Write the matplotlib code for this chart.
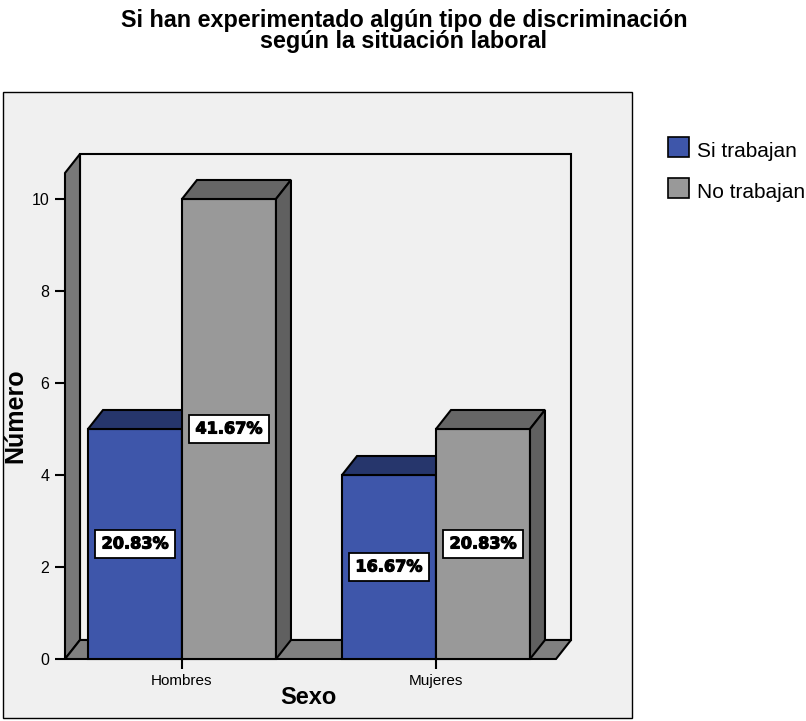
import numpy as np
import matplotlib
matplotlib.use("Agg")
import matplotlib.pyplot as plt
import matplotlib.patheffects as pe
from matplotlib.patches import Polygon, Rectangle

plt.rcParams['font.family'] = ['Liberation Sans', 'DejaVu Sans']

# ---- data ----
categories = ["Hombres", "Mujeres"]
series_names = ["Si trabajan", "No trabajan"]
si_trabajan = [5, 4]
no_trabajan = [10, 5]
title_lines = ["Si han experimentado algún tipo de discriminación",
               "según la situación laboral"]
y_ticks = [0, 2, 4, 6, 8, 10]

# ---- styling ----
front_colors = ["#3e56aa", "#999999"]
top_colors = ["#26366c", "#666666"]
side_colors = ["#2a3a78", "#606060"]
wall_color = "#787878"
floor_color = "#808080"
panel_color = "#f0f0f0"
edge_lw = 1.5

W, H = 806, 721
fig = plt.figure(figsize=(W / 100, H / 100), dpi=100, facecolor="white")


def fx(px):
    return px / W


def fy(py):
    return 1 - py / H


# outer panel
fig.patches.append(Rectangle((fx(3), fy(718)), fx(632) - fx(3), fy(92) - fy(718),
                             transform=fig.transFigure, facecolor=panel_color,
                             edgecolor="black", lw=1.0, zorder=0))

# axis geometry (front plane) and depth offset
x_left, x_right = -0.4606, 1.4724
y_top = 10.565
dx, dy = 0.059, 0.413
bar_w = 0.37

ax = fig.add_axes([fx(65), fy(659), fx(571) - fx(65), fy(154) - fy(659)])
ax.set_zorder(2)
ax.set_xlim(x_left, x_right + dx)
ax.set_ylim(0, y_top + dy)
ax.patch.set_visible(False)
for s in ax.spines.values():
    s.set_visible(False)

# back wall
ax.add_patch(Rectangle((x_left + dx, dy), x_right - x_left, y_top,
                       facecolor=panel_color, edgecolor="black", lw=edge_lw,
                       zorder=1, clip_on=False))
# left wall
ax.add_patch(Polygon([(x_left, 0), (x_left, y_top), (x_left + dx, y_top + dy),
                      (x_left + dx, dy)], closed=True, facecolor=wall_color,
                     edgecolor="black", lw=edge_lw, zorder=2, clip_on=False))
# floor
ax.add_patch(Polygon([(x_left, 0), (x_right, 0), (x_right + dx, dy),
                      (x_left + dx, dy)], closed=True, facecolor=floor_color,
                     edgecolor="black", lw=edge_lw, zorder=2, clip_on=False))

values = [si_trabajan, no_trabajan]
total = sum(si_trabajan) + sum(no_trabajan)
group_pos = np.arange(len(categories))
heavy = [pe.withStroke(linewidth=0.8, foreground="black")]
z = 3.0
for g, gx in enumerate(group_pos):
    for s in range(len(series_names)):
        v = values[s][g]
        x0 = gx - bar_w + s * bar_w
        x1 = x0 + bar_w
        ax.bar(x0, v, width=bar_w, align="edge", facecolor=front_colors[s],
               edgecolor="black", lw=edge_lw, zorder=z, clip_on=False)
        ax.add_patch(Polygon([(x0, v), (x1, v), (x1 + dx, v + dy), (x0 + dx, v + dy)],
                             closed=True, facecolor=top_colors[s], edgecolor="black",
                             lw=edge_lw, zorder=z, clip_on=False))
        ax.add_patch(Polygon([(x1, 0), (x1, v), (x1 + dx, v + dy), (x1 + dx, dy)],
                             closed=True, facecolor=side_colors[s], edgecolor="black",
                             lw=edge_lw, zorder=z, clip_on=False))
        z += 0.1
        ax.text((x0 + x1) / 2, v / 2, f"{v / total * 100:.2f}%", ha="center",
                va="center", fontsize=11.6, fontweight="bold", family="DejaVu Sans",
                zorder=10, path_effects=heavy,
                bbox=dict(boxstyle="square,pad=0.4", facecolor="white",
                          edgecolor="black", lw=1.3))

ax.set_yticks(y_ticks)
ax.set_xticks(group_pos, categories)
ax.tick_params(axis="y", length=7.2, width=1.5, direction="out", pad=4, labelsize=11.5)
ax.tick_params(axis="x", length=7.2, width=1.5, direction="out", pad=3.5, labelsize=11)

fig.text(fx(15), fy(416), "Número", rotation=90, ha="center", va="center",
         fontsize=18, fontweight="bold")
fig.text(fx(308), fy(697), "Sexo", ha="center", va="center",
         fontsize=17, fontweight="bold")

fig.text(fx(404), fy(26.7), title_lines[0], ha="center", va="baseline",
         fontsize=16.8, fontweight="bold")
fig.text(fx(404), fy(48), title_lines[1], ha="center", va="baseline",
         fontsize=16.8, fontweight="bold")

# legend
for i, name in enumerate(series_names):
    base = 157 + i * 41
    fig.patches.append(Rectangle((fx(668), fy(base)), fx(689) - fx(668), fy(base - 20) - fy(base),
                                 transform=fig.transFigure, facecolor=front_colors[i],
                                 edgecolor="black", lw=1.2))
    fig.text(fx(697), fy(base), name, ha="left", va="baseline", fontsize=15)

fig.savefig("out.png", dpi=100, facecolor="white")
